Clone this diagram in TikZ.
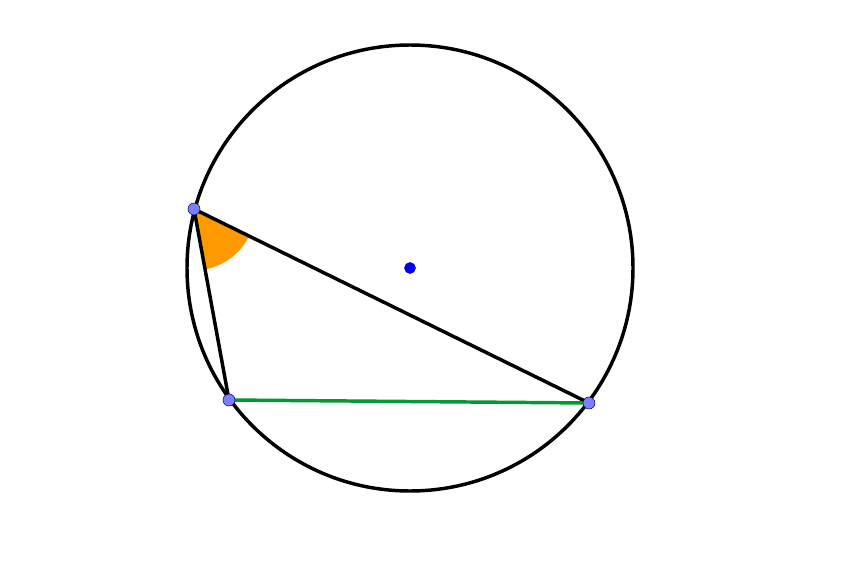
\documentclass[tikz,border=0pt]{standalone}
\usetikzlibrary{angles}
\definecolor{puntoblu}{RGB}{125,125,255}
\definecolor{verde}{RGB}{0,153,51}
\definecolor{arancio}{RGB}{255,153,0}
\begin{document}
\begin{tikzpicture}[x=0.75pt,y=0.75pt]
		\useasboundingbox (0,0) rectangle (866,569);
		\coordinate (O) at (410,301);
		\coordinate (A) at (194,360);
		\coordinate (B) at (229,169);
		\coordinate (C) at (589,166);
		
		%Angolo alla circonferenza
		\pic[fill=arancio, draw=none, angle radius=46pt] {angle = B--A--C};
		
		\draw[line width=2.6pt] (O) circle (223);
		\draw[line width=2.6pt] (B) -- (A) -- (C);
		\draw[verde, line width=2.6pt] (B) -- (C);
		
		\draw[fill=blue, draw=blue!60!black] (O) circle (5.5);
		\draw[fill=puntoblu, draw=blue!30!black, thin] (A) circle (6);
		\draw[fill=puntoblu, draw=blue!30!black, thin] (B) circle (6);
		\draw[fill=puntoblu, draw=blue!30!black, thin] (C) circle (6);
\end{tikzpicture}
\end{document}
